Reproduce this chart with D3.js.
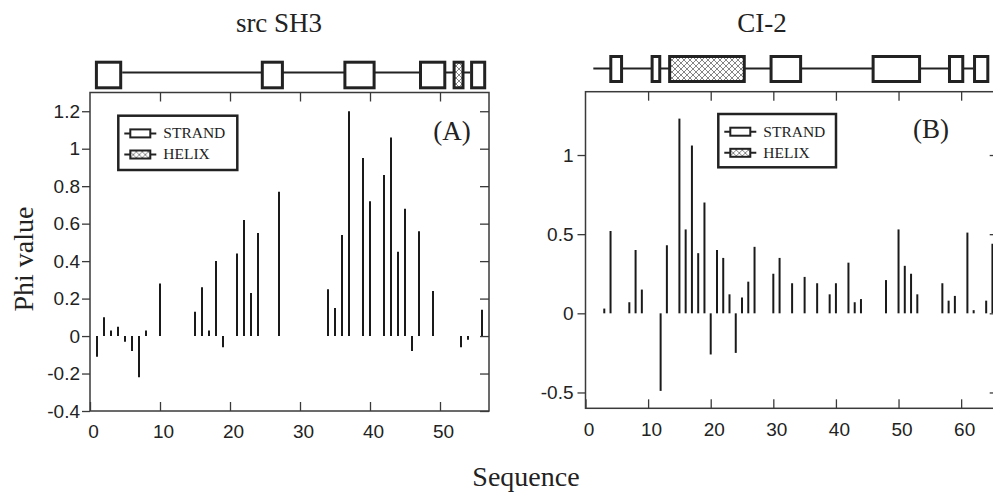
<!DOCTYPE html>
<html>
<head>
<meta charset="utf-8">
<script src="https://cdn.jsdelivr.net/npm/d3@7"></script>
<style>
  html, body { margin: 0; padding: 0; background: #fff; }
  svg { display: block; }
  .serif { font-family: "Liberation Serif", "Times New Roman", serif; fill: #222; }
  .tick text { font-family: "Liberation Sans", Arial, sans-serif; font-size: 19px; fill: #222; }
</style>
</head>
<body>
<svg id="chart" width="993" height="494"></svg>
<script>
// ---- src SH3: residue numbers and phi values ----
const sh3Residues = [1, 2, 3, 4, 5, 6, 7, 8, 10, 15, 16, 17, 18, 19, 21, 22, 23, 24, 27,
  34, 35, 36, 37, 39, 40, 42, 43, 44, 45, 46, 47, 49, 53, 54, 56];
const sh3Phi = [-0.11, 0.10, 0.03, 0.05, -0.03, -0.08, -0.22, 0.03, 0.28, 0.13, 0.26, 0.03, 0.40, -0.06, 0.44, 0.62, 0.23, 0.55, 0.77,
  0.25, 0.15, 0.54, 1.20, 0.95, 0.72, 0.86, 1.06, 0.45, 0.68, -0.08, 0.56, 0.24, -0.06, -0.02, 0.14];

// ---- CI-2: residue numbers and phi values ----
const ci2Residues = [3, 4, 7, 8, 9, 12, 13, 15, 16, 17, 18, 19, 20, 21, 22, 23, 24, 25, 26, 27,
  30, 31, 33, 35, 37, 39, 40, 42, 43, 44, 48, 50, 51, 52, 53, 57, 58, 59, 61, 62, 64, 65];
const ci2Phi = [0.03, 0.52, 0.07, 0.40, 0.15, -0.49, 0.43, 1.23, 0.53, 1.06, 0.38, 0.70, -0.26, 0.40, 0.35, 0.12, -0.25, 0.10, 0.20, 0.42,
  0.25, 0.35, 0.19, 0.23, 0.19, 0.12, 0.19, 0.32, 0.07, 0.09, 0.21, 0.53, 0.30, 0.25, 0.12, 0.19, 0.08, 0.11, 0.51, 0.02, 0.08, 0.44];

// ---- secondary structure (residue ranges) ----
const sh3Strands = [[0.7, 4.6], [24.4, 27.7], [36.2, 40.8], [47.0, 50.9], [54.3, 56.6]];
const sh3Helices = [[51.8, 53.5]];
const sh3Backbone = [4.6, 54.3];
const ci2Strands = [[3.8, 6.0], [10.4, 12.1], [29.4, 34.6], [45.7, 53.6], [57.9, 60.5], [61.9, 64.5]];
const ci2Helices = [[13.2, 25.6]];
const ci2Backbone = [1.25, 61.9];

// ---- axis ticks ----
const sh3XTicks = [0, 10, 20, 30, 40, 50];
const sh3YTicks = [-0.4, -0.2, 0, 0.2, 0.4, 0.6, 0.8, 1.0, 1.2];
const ci2XTicks = [0, 10, 20, 30, 40, 50, 60];
const ci2YTicks = [-0.5, 0, 0.5, 1];

const legendLabels = ["STRAND", "HELIX"];

const svg = d3.select("#chart");
const ink = "#222";
const frameInk = "#3a3a3a";

// cross-hatch fill used for helices
const defs = svg.append("defs");
const pat = defs.append("pattern")
  .attr("id", "hatch").attr("patternUnits", "userSpaceOnUse")
  .attr("width", 6).attr("height", 6);
pat.append("rect").attr("width", 6).attr("height", 6).attr("fill", "#fff");
pat.append("path").attr("d", "M0,0L6,6M6,0L0,6M-1,5L1,7M5,-1L7,1")
  .attr("stroke", "#777").attr("stroke-width", 0.9);

const fmt = d => String(+d.toFixed(1));

function panel(cfg) {
  const { x, y, residues, phi, xTicks, yTicks, strands, helices, backbone, ss, legend, tag, title, labelPad } = cfg;
  const [x0, x1] = x.range();
  const [y0, y1] = y.range(); // y0 bottom, y1 top
  const g = svg.append("g");

  // bars
  g.append("g").selectAll("line")
    .data(residues.map((r, i) => [r, phi[i]]))
    .join("line")
    .attr("x1", d => x(d[0])).attr("x2", d => x(d[0]))
    .attr("y1", y(0)).attr("y2", d => y(d[1]))
    .attr("stroke", "#1a1a1a").attr("stroke-width", 2);

  // axes
  const bottom = g.append("g").attr("transform", `translate(0,${y0})`)
    .call(d3.axisBottom(x).tickValues(xTicks).tickSizeInner(-9).tickSizeOuter(0).tickPadding(14).tickFormat(d3.format("d")));
  bottom.selectAll(".tick text").attr("dx", 3);
  g.append("g").attr("transform", `translate(0,${y1})`)
    .call(d3.axisTop(x).tickValues(xTicks.filter(v => v > 0)).tickSizeInner(-9).tickSizeOuter(0).tickFormat(""));
  g.append("g").attr("transform", `translate(${x0},0)`)
    .call(d3.axisLeft(y).tickValues(yTicks).tickSizeInner(8).tickSizeOuter(0).tickPadding(labelPad).tickFormat(fmt));
  g.append("g").attr("transform", `translate(${x1},0)`)
    .call(d3.axisRight(y).tickValues(yTicks).tickSizeInner(-9).tickSizeOuter(0).tickFormat(""));
  g.selectAll(".domain").remove();
  g.selectAll(".tick line").attr("stroke", frameInk).attr("stroke-width", 1.3);

  // frame
  g.append("rect").attr("x", x0).attr("y", y1).attr("width", x1 - x0).attr("height", y0 - y1)
    .attr("fill", "none").attr("stroke", frameInk).attr("stroke-width", 1.5);

  // secondary structure track
  const ssg = g.append("g");
  ssg.append("line")
    .attr("x1", x(backbone[0])).attr("x2", x(backbone[1]))
    .attr("y1", ss.line).attr("y2", ss.line)
    .attr("stroke", ink).attr("stroke-width", 2);
  const box = (sel, fill) => sel
    .attr("x", d => x(d[0]) + 1.5).attr("width", d => x(d[1]) - x(d[0]) - 3)
    .attr("y", ss.top + 1.5).attr("height", ss.bottom - ss.top - 3)
    .attr("fill", fill).attr("stroke", ink).attr("stroke-width", 3);
  ssg.selectAll("rect.strand").data(strands).join("rect").attr("class", "strand").call(box, "#fff");
  ssg.selectAll("rect.helix").data(helices).join("rect").attr("class", "helix").call(box, "url(#hatch)");

  // legend
  const lg = g.append("g").attr("transform", `translate(${legend.x},${legend.y})`);
  lg.append("rect").attr("x", 0).attr("y", 0).attr("width", legend.w).attr("height", legend.h)
    .attr("fill", "#fff").attr("stroke", ink).attr("stroke-width", 2.5);
  legendLabels.forEach((lab, i) => {
    const cy = [17.7, 38.8][i];
    lg.append("line").attr("x1", 6).attr("x2", 38).attr("y1", cy).attr("y2", cy)
      .attr("stroke", ink).attr("stroke-width", 2);
    lg.append("rect").attr("x", 12).attr("y", cy - 4).attr("width", 20).attr("height", 8)
      .attr("fill", i === 0 ? "#fff" : "url(#hatch)").attr("stroke", ink).attr("stroke-width", 2);
    lg.append("text").attr("class", "serif").attr("x", 45).attr("y", cy + 5)
      .attr("font-size", 15.5).text(lab);
  });

  // panel tag and title
  g.append("text").attr("class", "serif").attr("x", tag.x).attr("y", tag.y)
    .attr("text-anchor", "middle").attr("font-size", 27).text(tag.text);
  g.append("text").attr("class", "serif").attr("x", title.x).attr("y", 31.5)
    .attr("text-anchor", "middle").attr("font-size", 27).text(title.text);
}

panel({
  x: d3.scaleLinear([0, 57], [90, 489]),
  y: d3.scaleLinear([-0.4, 1.3], [411, 92.5]),
  residues: sh3Residues, phi: sh3Phi, xTicks: sh3XTicks, yTicks: sh3YTicks,
  strands: sh3Strands, helices: sh3Helices, backbone: sh3Backbone,
  ss: { top: 60.7, bottom: 89.3, line: 72.5 },
  legend: { x: 118.3, y: 115.7, w: 119, h: 54.3 },
  tag: { x: 452, y: 140, text: "(A)" },
  title: { x: 279, text: "src SH3" },
  labelPad: 2
});

panel({
  x: d3.scaleLinear([0, 66], [585.5, 998.7]),
  y: d3.scaleLinear([-0.6, 1.4], [408.3, 91.7]),
  residues: ci2Residues, phi: ci2Phi, xTicks: ci2XTicks, yTicks: ci2YTicks,
  strands: ci2Strands, helices: ci2Helices, backbone: ci2Backbone,
  ss: { top: 55, bottom: 83, line: 68.5 },
  legend: { x: 718.3, y: 114, w: 117.7, h: 53.3 },
  tag: { x: 931, y: 138, text: "(B)" },
  title: { x: 762, text: "CI-2" },
  labelPad: 4
});

// shared axis titles
svg.append("text").attr("class", "serif")
  .attr("transform", "translate(33,259) rotate(-90)")
  .attr("text-anchor", "middle").attr("font-size", 28).text("Phi value");
svg.append("text").attr("class", "serif")
  .attr("x", 526).attr("y", 486)
  .attr("text-anchor", "middle").attr("font-size", 28).text("Sequence");
</script>
</body>
</html>
